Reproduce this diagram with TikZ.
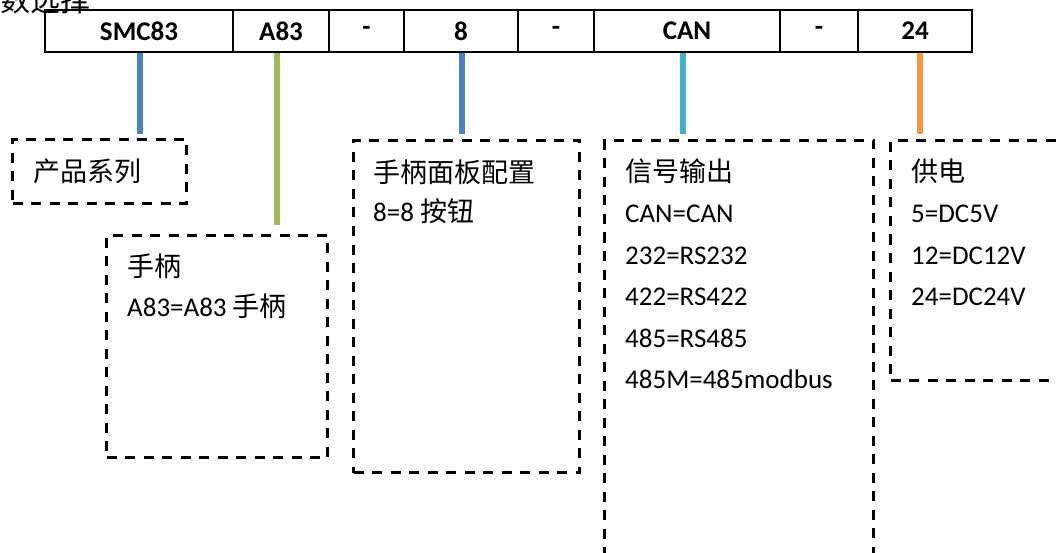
\documentclass[tikz,border=0pt]{standalone}
\usepackage{fontspec}
\setmainfont{Carlito}
\newfontfamily\cjk{Noto Sans CJK SC}
\definecolor{cblue}{HTML}{4F81BD}
\definecolor{cgreen}{HTML}{9BBB59}
\definecolor{cteal}{HTML}{4BACC6}
\definecolor{corange}{HTML}{F79646}
\tikzset{
  cell/.style={draw, line width=2pt, minimum height=42pt, inner sep=0pt, anchor=west,
    font=\bfseries\fontsize{27}{30}\selectfont},
  dbox/.style={draw, line width=3pt, dash pattern=on 10pt off 8.5pt, inner sep=0pt, anchor=north west},
  txt/.style={anchor=north west, inner sep=0pt, align=left, font=\fontsize{27}{41.5}\selectfont},
  conn/.style={line width=5.5pt}
}
\begin{document}
\begin{tikzpicture}[x=1pt,y=-1pt]
\useasboundingbox (0,0) rectangle (1056,553);
\clip (0,0) rectangle (1056,553);

% title (partly cut off)
\node[anchor=base east, inner sep=0pt, font=\cjk\fontsize{30}{30}\selectfont] (title) at (91,12) {数选择};

% code table
\node[cell, minimum width=188pt] (c1) at (44,31) {SMC83};
\node[cell, minimum width=96pt]  (c2) at (232,31) {A83};
\node[cell, minimum width=75pt]  (c3) at (328,31) {-};
\node[cell, minimum width=114pt] (c4) at (403,31) {8};
\node[cell, minimum width=76pt]  (c5) at (517,31) {-};
\node[cell, minimum width=186pt] (c6) at (593,31) {CAN};
\node[cell, minimum width=78pt]  (c7) at (779,31) {-};
\node[cell, minimum width=114pt] (c8) at (857,31) {24};

% dashed boxes
\node[dbox, minimum width=174pt, minimum height=64pt]  (b1) at (11,138) {};
\node[dbox, minimum width=221pt, minimum height=222pt] (b2) at (105,234) {};
\node[dbox, minimum width=226pt, minimum height=332pt] (b3) at (352,139) {};
\node[dbox, minimum width=269pt, minimum height=480pt] (b4) at (603,139) {};
\node[dbox, minimum width=240pt, minimum height=240pt] (b5) at (889,139) {};

% box texts
\node[txt] (t1) at (33,156) {\rule{0pt}{25pt}{\cjk 产品系列}};
\node[txt] (t2) at (127,251) {\rule{0pt}{25pt}{\cjk 手柄}\\[-1pt]A83=A83 {\cjk 手柄}};
\node[txt] (t3) at (373,157) {\rule{0pt}{25pt}{\cjk 手柄面板配置}\\[-2pt]8=8 {\cjk 按钮}};
\node[txt] (t4) at (625,156) {\rule{0pt}{25pt}{\cjk 信号输出}\\CAN=CAN\\232=RS232\\422=RS422\\485=RS485\\485M=485modbus};
\node[txt] (t5) at (911,156) {\rule{0pt}{25pt}{\cjk 供电}\\5=DC5V\\12=DC12V\\24=DC24V};

% connector ends
\coordinate (e1) at (140,134);
\coordinate (e2) at (277,225);
\coordinate (e3) at (462,134);
\coordinate (e4) at (683,134);
\coordinate (e5) at (920,134);

\draw[conn, cblue]   (c1.south -| e1) -- (e1);
\draw[conn, cgreen]  (c2.south -| e2) -- (e2);
\draw[conn, cblue]   (c4.south -| e3) -- (e3);
\draw[conn, cteal]   (c6.south -| e4) -- (e4);
\draw[conn, corange] (c8.south -| e5) -- (e5);
\end{tikzpicture}
\end{document}
